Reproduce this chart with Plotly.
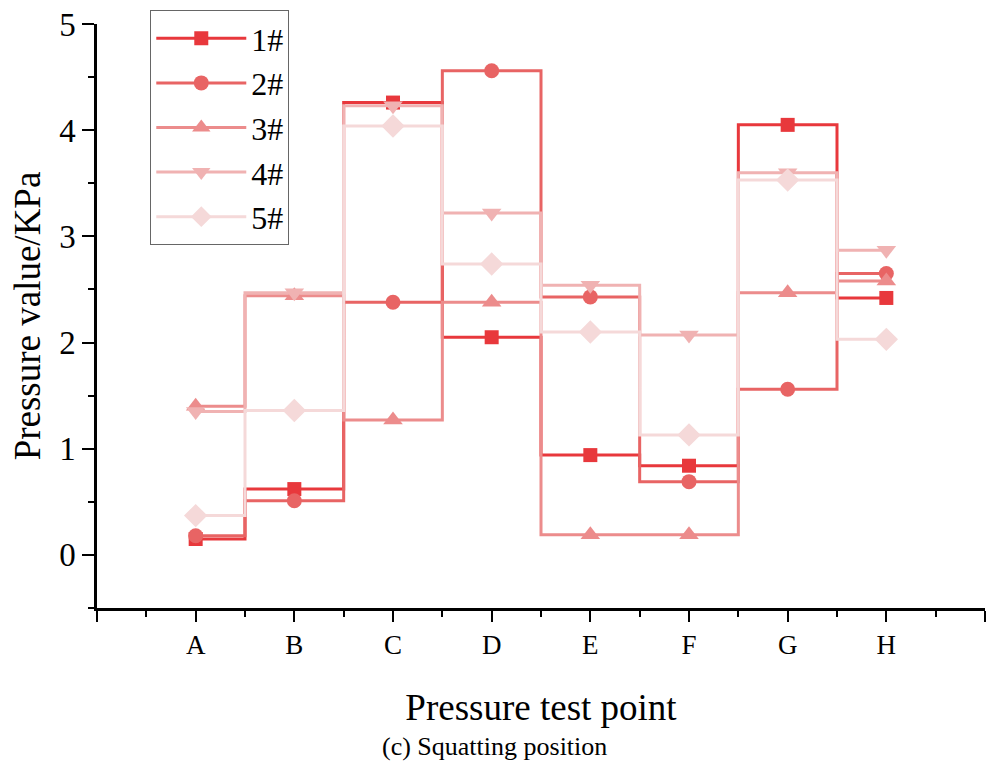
import plotly.graph_objects as go

points = ["A", "B", "C", "D", "E", "F", "G", "H"]
series_names = ["1#", "2#", "3#", "4#", "5#"]
s1 = [0.15, 0.62, 4.26, 2.05, 0.94, 0.84, 4.05, 2.42]
s2 = [0.18, 0.51, 2.38, 4.56, 2.43, 0.69, 1.56, 2.65]
s3 = [1.40, 2.44, 1.27, 2.38, 0.19, 0.19, 2.47, 2.58]
s4 = [1.35, 2.47, 4.23, 3.22, 2.54, 2.07, 3.60, 2.87]
s5 = [0.37, 1.36, 4.04, 2.74, 2.10, 1.13, 3.53, 2.03]
all_series = [s1, s2, s3, s4, s5]

colors = ["#e8383c", "#e86464", "#ec8c8c", "#f0b2b2", "#f5d9d9"]
symbols = ["square", "circle", "triangle-up", "triangle-down", "diamond"]
msizes = [14, 15, 17, 17, 18]

xpos = list(range(1, len(points) + 1))
FONT = "Liberation Serif, Times New Roman, serif"

fig = go.Figure()
for i, (name, vals) in enumerate(zip(series_names, all_series)):
    fig.add_trace(go.Scatter(
        x=xpos, y=vals, name=name, mode="lines+markers",
        line=dict(shape="hvh", color=colors[i], width=3),
        marker=dict(symbol=symbols[i], size=msizes[i], color=colors[i],
                    line=dict(width=0)),
        legendgroup=name,
    ))

fig.update_layout(
    width=987, height=767,
    margin=dict(l=97, r=2, t=24, b=159),
    paper_bgcolor="white", plot_bgcolor="white",
    font=dict(family=FONT, color="black"),
    showlegend=True,
    legend=dict(
        x=0.06, y=1.024, xanchor="left", yanchor="top",
        bordercolor="#666666", borderwidth=1, bgcolor="rgba(255,255,255,0)",
        font=dict(family=FONT, size=32, color="black"),
        tracegroupgap=0, traceorder="grouped", itemwidth=90,
    ),
)

fig.update_xaxes(
    range=[0, 9],
    tickmode="array",
    tickvals=list(range(0, len(points) + 2)),
    ticktext=[""] + points + [""],
    ticks="outside", ticklen=11, tickwidth=2, tickcolor="black",
    minor=dict(dtick=0.5, tick0=0, ticks="outside", ticklen=6, tickwidth=2, tickcolor="black"),
    showline=True, linewidth=2.5, linecolor="black",
    showgrid=False, zeroline=False,
    tickfont=dict(family=FONT, size=27, color="black"),
    title=dict(text="Pressure test point", font=dict(family=FONT, size=37, color="black"), standoff=35),
)
fig.update_yaxes(
    range=[-0.5, 5],
    tickmode="linear", tick0=0, dtick=1,
    ticks="outside", ticklen=12, tickwidth=2, tickcolor="black",
    minor=dict(dtick=0.5, tick0=0, ticks="outside", ticklen=6, tickwidth=2, tickcolor="black"),
    showline=True, linewidth=2.5, linecolor="black",
    showgrid=False, zeroline=False,
    tickfont=dict(family=FONT, size=33, color="black"),
    title=dict(text="Pressure value/KPa", font=dict(family=FONT, size=37, color="black"), standoff=8),
)

fig.add_annotation(
    text="(c) Squatting position", xref="paper", yref="paper",
    x=(494 - 97) / 888, y=-(747 - 608) / 584, xanchor="center", yanchor="middle",
    showarrow=False, font=dict(family=FONT, size=26, color="black"),
)

fig.write_html("out.html")
